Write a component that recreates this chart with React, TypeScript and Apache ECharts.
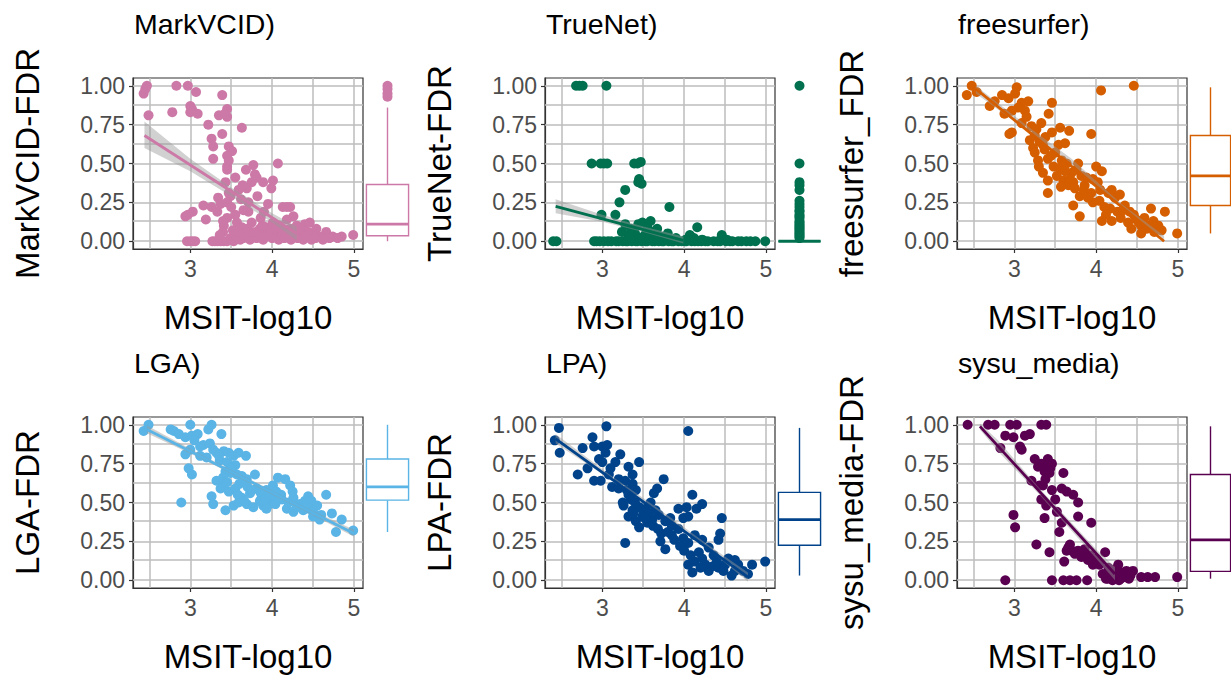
import React, { useEffect, useRef } from "react";
import * as echarts from "echarts";

// ---------- text ----------
const panelTitles = ["MarkVCID)", "TrueNet)", "freesurfer)", "LGA)", "LPA)", "sysu_media)"];
const yAxisNames = ["MarkVCID-FDR", "TrueNet-FDR", "freesurfer_FDR", "LGA-FDR", "LPA-FDR", "sysu_media-FDR"];
const xAxisName = "MSIT-log10";
const colors = ["#CC79A7", "#00704F", "#D55E00", "#5AB4E5", "#00438A", "#5A0050"];

// ---------- ticks / grid ----------
const xTickValues = [3, 4, 5];
const yTickValues = [0, 0.25, 0.5, 0.75, 1];
const xGridValues = [2.5, 3, 3.5, 4, 4.5, 5];
const yGridValues = [0, 0.125, 0.25, 0.375, 0.5, 0.625, 0.75, 0.875, 1];

// ---------- scatter points ----------
const markvcidPoints = [
  [2.43, 0.95], [2.45, 0.98], [2.47, 1.0], [2.49, 0.81], [2.83, 1.0], [2.97, 1.0], [3.07, 0.96], [2.78, 0.83],
  [3.0, 0.87], [3.0, 0.83], [3.02, 0.85], [3.09, 0.82], [3.39, 0.94], [3.35, 0.81], [3.45, 0.85], [3.45, 0.8],
  [3.42, 0.82], [3.22, 0.75], [3.26, 0.66], [3.28, 0.61], [3.28, 0.53], [3.39, 0.69], [3.63, 0.73], [3.47, 0.61],
  [3.51, 0.58], [3.45, 0.55], [3.45, 0.48], [3.45, 0.46], [3.47, 0.52], [4.07, 0.5], [3.77, 0.49], [3.68, 0.46],
  [3.79, 0.43], [3.81, 0.41], [3.75, 0.38], [3.89, 0.38], [4.01, 0.39], [3.99, 0.34], [3.69, 0.34], [3.55, 0.41],
  [3.43, 0.38], [3.47, 0.31], [3.49, 0.29], [3.59, 0.33], [3.64, 0.36], [3.34, 0.28], [3.37, 0.24], [3.45, 0.25],
  [3.82, 0.29], [3.71, 0.25], [3.95, 0.24], [3.71, 0.19], [3.16, 0.23], [3.26, 0.22], [3.33, 0.19], [2.94, 0.16],
  [3.03, 0.19], [2.97, 0.17], [3.19, 0.14], [4.13, 0.22], [4.18, 0.22], [4.22, 0.22], [4.26, 0.16], [3.45, 0.15],
  [3.57, 0.12], [3.41, 0.1], [3.63, 0.09], [3.75, 0.12], [3.85, 0.08], [3.93, 0.09], [4.01, 0.12], [4.09, 0.1],
  [4.18, 0.14], [4.22, 0.08], [4.3, 0.1], [4.4, 0.11], [4.46, 0.12], [4.54, 0.08], [4.66, 0.06], [4.74, 0.03],
  [4.85, 0.03], [4.99, 0.04], [4.58, 0.03], [4.5, 0.04], [4.44, 0.06], [4.35, 0.05], [4.28, 0.03],
  [2.96, 0], [3.0, 0], [3.03, 0], [3.06, 0], [3.27, 0], [3.3, 0], [3.33, 0], [3.37, 0], [3.41, 0], [3.45, 0],
  [3.49, 0.02], [3.53, 0], [3.57, 0.03], [3.61, 0.01], [3.65, 0.02], [3.69, 0.04], [3.73, 0.01], [3.77, 0.03],
  [3.81, 0.02], [3.85, 0.05], [3.89, 0.01], [3.92, 0.03], [3.96, 0.06], [4.0, 0.02], [4.04, 0.04], [4.08, 0.01],
  [4.11, 0.05], [4.15, 0.02], [4.19, 0.04], [4.23, 0.01], [4.27, 0.06], [4.31, 0.02], [4.38, 0.01], [4.42, 0.03],
  [4.48, 0.01], [4.53, 0.02], [4.62, 0.01], [4.7, 0.02], [4.8, 0.02], [3.4, 0.06], [3.52, 0.07], [3.6, 0.06],
  [3.7, 0.08], [3.8, 0.06], [3.88, 0.1], [3.98, 0.07], [4.05, 0.08], [4.12, 0.07], [3.55, 0.17], [3.65, 0.2],
  [3.5, 0.22], [3.86, 0.15], [3.4, 0.13], [3.62, 0.27], [3.9, 0.19], [3.36, 0.04], [3.74, 0.06], [4.34, 0.08],
];
const truenetPoints = [
  [2.68, 1], [2.72, 1], [2.76, 1], [3.05, 1], [2.87, 0.5], [2.98, 0.5], [3.02, 0.5], [3.06, 0.5], [3.39, 0.5],
  [3.43, 0.5], [3.47, 0.51], [3.44, 0.38], [3.48, 0.37], [3.45, 0.4], [3.28, 0.33], [3.21, 0.25], [3.16, 0.17],
  [2.99, 0.17], [3.82, 0.22], [4.16, 0.09], [3.28, 0.11], [3.44, 0.11], [3.49, 0.12], [3.59, 0.13], [3.67, 0.08],
  [3.24, 0.06], [3.32, 0.04], [3.4, 0.05], [3.52, 0.04], [3.62, 0.06], [3.72, 0.03], [3.8, 0.05], [3.9, 0.02],
  [4.07, 0.04], [4.46, 0.04], [4.12, 0.02], [3.35, 0.08], [3.55, 0.09],
  [2.4, 0], [2.44, 0], [2.9, 0], [2.93, 0], [2.97, 0], [3.02, 0], [3.07, 0], [3.11, 0], [3.17, 0], [3.2, 0],
  [3.25, 0], [3.29, 0], [3.31, 0], [3.36, 0], [3.41, 0], [3.43, 0], [3.48, 0], [3.53, 0], [3.55, 0], [3.61, 0],
  [3.64, 0], [3.69, 0], [3.73, 0], [3.75, 0], [3.81, 0], [3.85, 0], [3.87, 0], [3.93, 0], [3.97, 0], [4.01, 0],
  [4.03, 0], [4.09, 0], [4.13, 0], [4.17, 0], [4.21, 0], [4.26, 0], [4.29, 0], [4.36, 0], [4.41, 0], [4.44, 0],
  [4.51, 0], [4.56, 0], [4.59, 0], [4.66, 0], [4.7, 0], [4.76, 0], [4.81, 0], [4.87, 0], [4.99, 0], [4.02, 0.01],
  [4.22, 0.01], [4.52, 0.01], [3.33, 0.02], [3.47, 0.02], [3.58, 0.02], [3.68, 0.01],
];
const freesurferPoints = [
  [2.48, 1.0], [2.42, 0.94], [2.54, 0.96], [2.7, 0.87], [2.76, 0.9], [2.85, 0.94], [2.93, 0.92], [3.03, 0.99],
  [3.01, 0.95], [3.09, 0.89], [3.17, 0.9], [3.05, 0.86], [2.97, 0.84], [3.13, 0.84], [3.46, 0.89], [3.42, 0.82],
  [4.06, 0.97], [4.46, 1.0], [2.97, 0.7], [2.94, 0.69], [3.09, 0.76], [3.21, 0.74], [3.33, 0.76], [3.27, 0.72],
  [3.46, 0.7], [3.56, 0.73], [3.67, 0.71], [3.94, 0.69], [3.19, 0.65], [3.23, 0.6], [3.31, 0.64], [3.37, 0.59],
  [3.25, 0.57], [3.29, 0.52], [3.41, 0.53], [3.5, 0.57], [3.54, 0.62], [3.62, 0.63], [3.48, 0.48], [3.58, 0.52],
  [3.35, 0.44], [3.41, 0.39], [3.41, 0.31], [3.52, 0.42], [3.6, 0.39], [3.66, 0.36], [3.7, 0.44], [3.72, 0.38],
  [3.78, 0.5], [3.76, 0.46], [3.82, 0.42], [3.8, 0.29], [3.72, 0.23], [3.8, 0.16], [3.86, 0.36], [4.0, 0.48],
  [4.07, 0.45], [3.96, 0.4], [4.02, 0.38], [3.94, 0.31], [3.96, 0.25], [4.04, 0.26], [4.07, 0.13], [4.15, 0.31],
  [4.19, 0.33], [4.23, 0.28], [4.29, 0.3], [4.17, 0.21], [4.19, 0.13], [4.26, 0.19], [4.35, 0.23], [4.41, 0.19],
  [4.39, 0.12], [4.43, 0.08], [4.49, 0.14], [4.55, 0.05], [4.59, 0.15], [4.67, 0.21], [4.76, 0.1], [4.84, 0.19],
  [4.99, 0.05], [4.71, 0.06], [4.65, 0.1], [4.55, 0.1], [3.15, 0.8], [3.25, 0.68], [3.35, 0.62], [3.45, 0.55],
  [3.55, 0.47], [3.62, 0.45], [3.68, 0.4], [3.74, 0.34], [3.85, 0.33], [3.9, 0.28], [4.1, 0.22], [4.12, 0.17],
  [4.3, 0.15], [4.33, 0.2], [4.46, 0.17], [4.52, 0.12], [4.62, 0.08], [3.64, 0.5], [3.57, 0.35], [3.88, 0.41],
  [4.05, 0.33], [2.88, 0.82], [3.38, 0.67], [3.3, 0.48], [4.7, 0.13], [4.8, 0.07],
];
const lgaPoints = [
  [2.43, 0.96], [2.49, 1.0], [2.76, 0.97], [2.8, 0.96], [2.86, 0.94], [3.0, 1.0], [2.94, 0.92], [3.02, 0.93],
  [3.09, 0.94], [2.94, 0.81], [3.0, 0.84], [2.98, 0.72], [3.02, 0.68], [2.89, 0.5], [3.22, 0.97], [3.26, 1.0],
  [3.38, 0.94], [3.16, 0.87], [3.24, 0.88], [3.28, 0.84], [3.12, 0.8], [3.2, 0.79], [3.32, 0.82], [3.41, 0.83],
  [3.47, 0.82], [3.53, 0.8], [3.59, 0.82], [3.68, 0.8], [3.36, 0.77], [3.45, 0.76], [3.55, 0.74], [3.43, 0.7],
  [3.49, 0.69], [3.57, 0.68], [3.63, 0.67], [3.69, 0.65], [3.79, 0.68], [3.32, 0.64], [3.41, 0.62], [3.37, 0.59],
  [3.47, 0.57], [3.55, 0.59], [3.26, 0.54], [3.28, 0.49], [3.43, 0.45], [3.53, 0.48], [3.59, 0.5], [3.69, 0.49],
  [3.77, 0.47], [3.63, 0.53], [3.73, 0.56], [3.81, 0.59], [3.87, 0.55], [3.93, 0.58], [4.01, 0.61], [4.07, 0.66],
  [4.16, 0.65], [4.22, 0.61], [4.01, 0.52], [4.11, 0.55], [4.18, 0.46], [4.26, 0.53], [4.34, 0.49], [4.38, 0.45],
  [4.44, 0.54], [4.48, 0.51], [4.55, 0.48], [4.5, 0.41], [4.58, 0.39], [4.66, 0.55], [4.73, 0.43], [4.85, 0.39],
  [4.78, 0.31], [4.99, 0.32], [3.97, 0.49], [3.89, 0.48], [3.85, 0.51], [3.93, 0.46], [4.26, 0.44], [4.4, 0.51],
  [3.05, 0.9], [3.12, 0.86], [3.35, 0.8], [3.5, 0.72], [3.6, 0.62], [3.7, 0.6], [3.75, 0.58], [3.85, 0.57],
  [3.95, 0.55], [4.05, 0.57], [4.12, 0.52], [4.2, 0.5], [4.3, 0.47], [4.45, 0.46], [4.6, 0.42], [3.4, 0.66],
  [3.45, 0.63], [3.58, 0.55], [3.66, 0.51], [3.92, 0.52], [4.04, 0.49], [4.25, 0.57], [4.5, 0.44],
];
const lpaPoints = [
  [2.47, 0.98], [2.42, 0.9], [2.48, 0.82], [3.05, 0.99], [4.05, 0.96], [2.88, 0.92], [2.9, 0.86], [2.76, 0.85],
  [3.0, 0.86], [3.04, 0.82], [3.06, 0.87], [2.96, 0.78], [3.0, 0.76], [2.82, 0.72], [2.7, 0.68], [2.9, 0.64],
  [2.98, 0.64], [3.08, 0.68], [3.22, 0.81], [3.16, 0.76], [3.12, 0.6], [3.2, 0.59], [3.32, 0.73], [3.37, 0.68],
  [3.45, 0.76], [3.28, 0.64], [3.37, 0.62], [3.41, 0.58], [3.32, 0.55], [3.26, 0.48], [3.37, 0.45], [3.32, 0.41],
  [3.41, 0.38], [3.45, 0.34], [3.49, 0.41], [3.53, 0.46], [3.59, 0.5], [3.63, 0.56], [3.67, 0.59], [3.75, 0.65],
  [3.55, 0.37], [3.61, 0.39], [3.69, 0.42], [3.77, 0.38], [3.83, 0.4], [3.28, 0.24], [3.71, 0.25], [3.77, 0.2],
  [3.85, 0.29], [3.93, 0.46], [3.99, 0.4], [4.03, 0.47], [4.1, 0.55], [4.15, 0.46], [4.22, 0.49], [4.05, 0.41],
  [3.93, 0.33], [3.99, 0.27], [4.05, 0.24], [4.13, 0.29], [4.22, 0.26], [4.3, 0.21], [4.46, 0.4], [4.44, 0.3],
  [4.42, 0.26], [4.36, 0.16], [4.05, 0.1], [4.13, 0.12], [4.26, 0.1], [4.3, 0.06], [4.42, 0.08], [4.54, 0.14],
  [4.58, 0.03], [4.66, 0.1], [4.72, 0.06], [4.78, 0.04], [4.83, 0.1], [4.99, 0.12], [4.5, 0.1], [4.62, 0.13],
  [3.1, 0.72], [3.2, 0.65], [3.3, 0.58], [3.35, 0.52], [3.45, 0.47], [3.5, 0.44], [3.57, 0.43], [3.62, 0.35],
  [3.68, 0.33], [3.72, 0.3], [3.8, 0.31], [3.88, 0.26], [3.95, 0.22], [4.0, 0.19], [4.08, 0.16], [4.18, 0.18],
  [4.22, 0.14], [4.35, 0.09], [4.4, 0.12], [4.48, 0.06], [4.62, 0.06], [3.4, 0.5], [3.52, 0.4], [3.65, 0.45],
  [3.85, 0.35], [4.1, 0.05], [4.2, 0.08], [3.25, 0.5], [3.38, 0.43],
];
const sysuPoints = [
  [2.43, 1.0], [2.68, 1.0], [2.76, 1.0], [2.95, 1.0], [3.03, 1.0], [3.33, 1.0], [3.39, 1.0], [2.89, 0.93],
  [2.99, 0.92], [3.13, 0.93], [3.19, 0.94], [2.83, 0.85], [3.07, 0.86], [3.09, 0.84], [3.25, 0.78], [3.29, 0.73],
  [3.33, 0.75], [3.37, 0.7], [3.41, 0.78], [3.46, 0.75], [3.43, 0.69], [3.6, 0.69], [3.21, 0.64], [3.35, 0.61],
  [3.46, 0.58], [3.33, 0.52], [3.39, 0.48], [3.58, 0.59], [3.64, 0.57], [3.72, 0.55], [3.78, 0.5], [2.99, 0.42],
  [3.01, 0.34], [3.37, 0.4], [3.58, 0.37], [3.55, 0.31], [3.78, 0.41], [3.94, 0.37], [3.27, 0.23], [3.43, 0.18],
  [3.68, 0.23], [3.64, 0.19], [3.7, 0.19], [3.78, 0.19], [3.86, 0.2], [3.92, 0.16], [3.61, 0.12], [4.0, 0.14],
  [4.04, 0.1], [4.11, 0.18], [4.15, 0.08], [4.23, 0.07], [4.27, 0.1], [4.31, 0.05], [4.37, 0.06], [4.45, 0.06],
  [2.89, 0], [3.46, 0], [3.6, 0], [3.68, 0], [3.76, 0], [3.89, 0], [4.12, 0.01], [4.16, 0.03], [4.22, 0.02],
  [4.3, 0.01], [4.36, 0.02], [4.42, 0.03], [4.55, 0.02], [4.63, 0.02], [4.72, 0.02], [4.99, 0.02],
  [3.36, 0.73], [3.4, 0.71], [3.44, 0.72], [3.38, 0.65], [3.31, 0.61], [3.5, 0.52], [3.52, 0.44], [3.66, 0.21],
  [3.74, 0.17], [3.82, 0.15], [3.9, 0.13], [3.96, 0.1], [4.08, 0.04], [4.18, 0.02], [4.2, 0.0], [4.14, 0.01],
  [4.26, 0.02], [4.34, 0.03], [4.4, 0.01], [4.28, 0.0],
];

// ---------- regression lines (start, end) ----------
const markvcidLine = [[2.44, 0.68], [4.3, 0.05]];
const truenetLine = [[2.43, 0.224], [3.99, 0.006]];
const freesurferLine = [[2.53, 0.98], [4.83, 0.0]];
const lgaLine = [[2.47, 0.97], [5.0, 0.3]];
const lpaLine = [[2.43, 0.91], [4.78, 0.02]];
const sysuLine = [[2.58, 0.99], [4.23, 0.04]];

// ---------- confidence bands: x, lower, upper ----------
const markvcidBandX = [2.44, 3.0, 3.5, 4.0, 4.3];
const markvcidBandLo = [0.6, 0.45, 0.29, 0.12, 0.005];
const markvcidBandHi = [0.77, 0.53, 0.345, 0.18, 0.095];
const truenetBandX = [2.43, 3.0, 3.5, 3.99];
const truenetBandLo = [0.18, 0.125, 0.06, -0.015];
const truenetBandHi = [0.27, 0.17, 0.095, 0.03];
const freesurferBandX = [2.53, 3.2, 3.7, 4.3, 4.83];
const freesurferBandLo = [0.95, 0.695, 0.5, 0.215, 0.0];
const freesurferBandHi = [1.0, 0.725, 0.53, 0.245, 0.035];
const lgaBandX = [2.47, 3.2, 3.8, 4.4, 5.0];
const lgaBandLo = [0.945, 0.765, 0.605, 0.445, 0.28];
const lgaBandHi = [0.995, 0.79, 0.63, 0.47, 0.325];
const lpaBandX = [2.43, 3.1, 3.7, 4.3, 4.78];
const lpaBandLo = [0.88, 0.65, 0.43, 0.2, -0.01];
const lpaBandHi = [0.94, 0.675, 0.455, 0.225, 0.05];
const sysuBandX = [2.58, 2.8, 3.3, 4.0, 4.23];
const sysuBandLo = [0.97, 0.83, 0.555, 0.14, 0.0];
const sysuBandHi = [1.01, 0.9, 0.595, 0.2, 0.085];

// ---------- marginal boxplots: [min, q1, median, q3, max] ----------
const markvcidBox = [0, 0.035, 0.11, 0.365, 0.86];
const truenetBox = [0, 0, 0, 0, 0];
const freesurferBox = [0.05, 0.23, 0.42, 0.68, 0.99];
const lgaBox = [0.31, 0.515, 0.6, 0.78, 1.0];
const lpaBox = [0.03, 0.225, 0.39, 0.565, 0.98];
const sysuBox = [0.01, 0.057, 0.26, 0.68, 0.99];

const markvcidOutliers = [0.93, 0.95, 0.98, 1.0];
const truenetOutliers = [1.0, 0.5, 0.38, 0.36, 0.33, 0.26, 0.24, 0.22, 0.2, 0.19, 0.17, 0.16, 0.15, 0.13, 0.12, 0.11, 0.1, 0.09, 0.08, 0.07, 0.06, 0.05, 0.04, 0.03, 0.02];
const freesurferOutliers: number[] = [];
const lgaOutliers: number[] = [];
const lpaOutliers: number[] = [];
const sysuOutliers: number[] = [];

const panelPoints = [markvcidPoints, truenetPoints, freesurferPoints, lgaPoints, lpaPoints, sysuPoints];
const panelLines = [markvcidLine, truenetLine, freesurferLine, lgaLine, lpaLine, sysuLine];
const panelBandX = [markvcidBandX, truenetBandX, freesurferBandX, lgaBandX, lpaBandX, sysuBandX];
const panelBandLo = [markvcidBandLo, truenetBandLo, freesurferBandLo, lgaBandLo, lpaBandLo, sysuBandLo];
const panelBandHi = [markvcidBandHi, truenetBandHi, freesurferBandHi, lgaBandHi, lpaBandHi, sysuBandHi];
const panelBoxes = [markvcidBox, truenetBox, freesurferBox, lgaBox, lpaBox, sysuBox];
const panelOutliers = [markvcidOutliers, truenetOutliers, freesurferOutliers, lgaOutliers, lpaOutliers, sysuOutliers];

// ---------- layout ----------
const colLeft = [133, 545, 957];
const rowTop = [78, 417];
const plotW = 230;
const plotH = 171;
const FONT = "'Liberation Sans', Arial, Helvetica, sans-serif";

function buildOption() {
  const grid: any[] = [];
  const xAxis: any[] = [];
  const yAxis: any[] = [];
  const series: any[] = [];
  const title: any[] = [];

  for (let i = 0; i < 6; i++) {
    const col = i % 3;
    const row = Math.floor(i / 3);
    const left = colLeft[col];
    const top = rowTop[row];
    const color = colors[i];
    const g = 2 * i;
    const gb = 2 * i + 1;

    title.push({
      text: panelTitles[i],
      left: left + 1,
      top: row === 0 ? 9 : 348,
      padding: 0,
      textStyle: { fontSize: 28.5, fontWeight: "normal", color: "#000", fontFamily: FONT },
    });

    grid.push({
      left, top, width: plotW, height: plotH,
      show: true, borderColor: "#333", borderWidth: 1.2, backgroundColor: "#fff",
    });
    grid.push({ left: left + 233, top, width: 43, height: plotH });

    xAxis.push({
      type: "value", gridIndex: g, min: 2.3, max: 5.11,
      name: xAxisName, nameLocation: "middle", nameGap: 52,
      nameTextStyle: { fontSize: 33, color: "#000", fontFamily: FONT },
      axisLine: { show: true, onZero: false, lineStyle: { color: "#333", width: 1.2 } },
      axisTick: { show: true, customValues: xTickValues, length: 4, lineStyle: { color: "#333", width: 1.2 } },
      axisLabel: { customValues: xTickValues, fontSize: 23, color: "#4D4D4D", margin: 8, fontFamily: FONT },
      splitLine: { show: false },
    });
    xAxis.push({ type: "value", gridIndex: gb, min: 0, max: 1, show: false });

    yAxis.push({
      type: "value", gridIndex: g, min: -0.05, max: 1.05,
      name: yAxisNames[i], nameLocation: "middle", nameGap: 89,
      nameTextStyle: { fontSize: 33, color: "#000", fontFamily: FONT },
      axisLine: { show: true, onZero: false, lineStyle: { color: "#333", width: 1.2 } },
      axisTick: { show: true, customValues: yTickValues, length: 4, lineStyle: { color: "#333", width: 1.2 } },
      axisLabel: {
        customValues: yTickValues, fontSize: 23, color: "#4D4D4D", margin: 8, fontFamily: FONT,
        formatter: (v: number) => v.toFixed(2),
      },
      splitLine: { show: false },
    });
    yAxis.push({ type: "value", gridIndex: gb, min: -0.05, max: 1.05, show: false });

    // grid lines
    series.push({
      type: "scatter", xAxisIndex: g, yAxisIndex: g, data: [], silent: true, z: 1,
      markLine: {
        silent: true, symbol: ["none", "none"], label: { show: false }, z: 1, animation: false,
        lineStyle: { color: "#bdbdbd", width: 1.5, type: "solid" },
        emphasis: { disabled: true },
        data: [
          ...xGridValues.map((v) => ({ xAxis: v })),
          ...yGridValues.map((v) => ({ yAxis: v })),
        ],
      },
    });

    // points
    series.push({
      type: "scatter", xAxisIndex: g, yAxisIndex: g, data: panelPoints[i],
      symbolSize: 10, itemStyle: { color, opacity: 1 }, z: 2,
    });

    // confidence band
    const bx = panelBandX[i], blo = panelBandLo[i], bhi = panelBandHi[i];
    series.push({
      type: "custom", xAxisIndex: g, yAxisIndex: g, z: 3, silent: true,
      data: [[bx[0], bhi[0]]],
      renderItem: (_p: any, api: any) => {
        const pts: number[][] = [];
        for (let k = 0; k < bx.length; k++) pts.push(api.coord([bx[k], bhi[k]]));
        for (let k = bx.length - 1; k >= 0; k--) pts.push(api.coord([bx[k], blo[k]]));
        return { type: "polygon", shape: { points: pts }, style: { fill: "#999999", opacity: 0.45 } };
      },
    });

    // regression line
    series.push({
      type: "line", xAxisIndex: g, yAxisIndex: g, data: panelLines[i], showSymbol: false,
      lineStyle: { color, width: 2.8 }, z: 4, silent: true,
    });

    // box
    series.push({
      type: "custom", xAxisIndex: gb, yAxisIndex: gb, z: 2, silent: true, clip: false,
      data: [[0.5, ...panelBoxes[i]]],
      renderItem: (_p: any, api: any) => {
        const x0 = api.coord([0.01, 0])[0];
        const x1 = api.coord([0.99, 0])[0];
        const xc = api.coord([0.5, 0])[0];
        const yMin = api.coord([0.5, api.value(1)])[1];
        const yQ1 = api.coord([0.5, api.value(2)])[1];
        const yMed = api.coord([0.5, api.value(3)])[1];
        const yQ3 = api.coord([0.5, api.value(4)])[1];
        const yMax = api.coord([0.5, api.value(5)])[1];
        const st = { stroke: color, lineWidth: 1.4 };
        return {
          type: "group",
          children: [
            { type: "line", shape: { x1: xc, y1: yMax, x2: xc, y2: yQ3 }, style: st },
            { type: "line", shape: { x1: xc, y1: yQ1, x2: xc, y2: yMin }, style: st },
            { type: "rect", shape: { x: x0, y: yQ3, width: x1 - x0, height: yQ1 - yQ3 }, style: { fill: "#fff", stroke: color, lineWidth: 1.4 } },
            { type: "line", shape: { x1: x0, y1: yMed, x2: x1, y2: yMed }, style: { stroke: color, lineWidth: 2.8 } },
          ],
        };
      },
    });

    if (panelOutliers[i].length) {
      series.push({
        type: "scatter", xAxisIndex: gb, yAxisIndex: gb, z: 3,
        data: panelOutliers[i].map((v) => [0.5, v]),
        symbolSize: 10, itemStyle: { color, opacity: 1 }, clip: false,
      });
    }
  }

  return {
    animation: false,
    backgroundColor: "#fff",
    textStyle: { fontFamily: FONT },
    title, grid, xAxis, yAxis, series,
  };
}

export default function App() {
  const ref = useRef<HTMLDivElement>(null);
  useEffect(() => {
    if (!ref.current) return;
    const chart = echarts.init(ref.current, undefined, { renderer: "svg" });
    chart.setOption(buildOption() as any);
    return () => chart.dispose();
  }, []);
  return (
    <div
      ref={ref}
      style={{ position: "absolute", left: 0, top: 0, width: 1231, height: 678, background: "#fff" }}
    />
  );
}
